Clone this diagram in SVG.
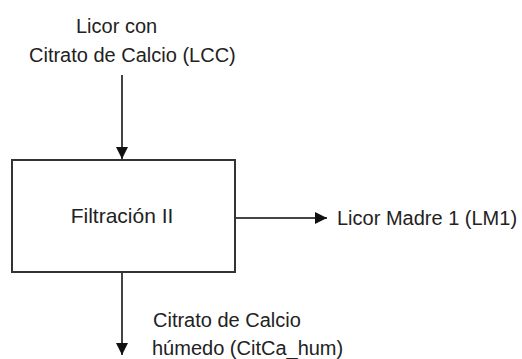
<svg xmlns="http://www.w3.org/2000/svg" width="522" height="359" viewBox="0 0 522 359">
<style>
.t{font-family:"Liberation Sans",Arial,sans-serif;font-size:20px;fill:#222}
.b{fill:#fff;stroke:#333;stroke-width:2}
.c{stroke:#444;stroke-width:2;fill:none}
</style>
<defs>
<marker id="ah" markerWidth="12" markerHeight="12" viewBox="0 0 12 12" refX="12" refY="6" orient="auto" markerUnits="userSpaceOnUse">
<path d="M0,0 L12,6 L0,12 Z" fill="#111"/>
</marker>
</defs>
<rect width="522" height="359" fill="#fff"/>
<g id="connectors">
<line class="c" x1="122" y1="75" x2="122" y2="159" marker-end="url(#ah)"/>
<line class="c" x1="235" y1="218" x2="327" y2="218" marker-end="url(#ah)"/>
<line class="c" x1="122" y1="272" x2="122" y2="355" marker-end="url(#ah)"/>
</g>
<g id="filtracion">
<rect class="b" x="12" y="160" width="223" height="112"/>
<text class="t" x="122" y="223" text-anchor="middle" style="font-size:21px">Filtración II</text>
</g>
<g id="lcc">
<text class="t" x="76" y="33">Licor con</text>
<text class="t" x="29" y="62">Citrato de Calcio (LCC)</text>
</g>
<g id="lm1">
<text class="t" x="337" y="225">Licor Madre 1 (LM1)</text>
</g>
<g id="citca">
<text class="t" x="153" y="327">Citrato de Calcio</text>
<text class="t" x="152" y="355">húmedo (CitCa_hum)</text>
</g>
</svg>
